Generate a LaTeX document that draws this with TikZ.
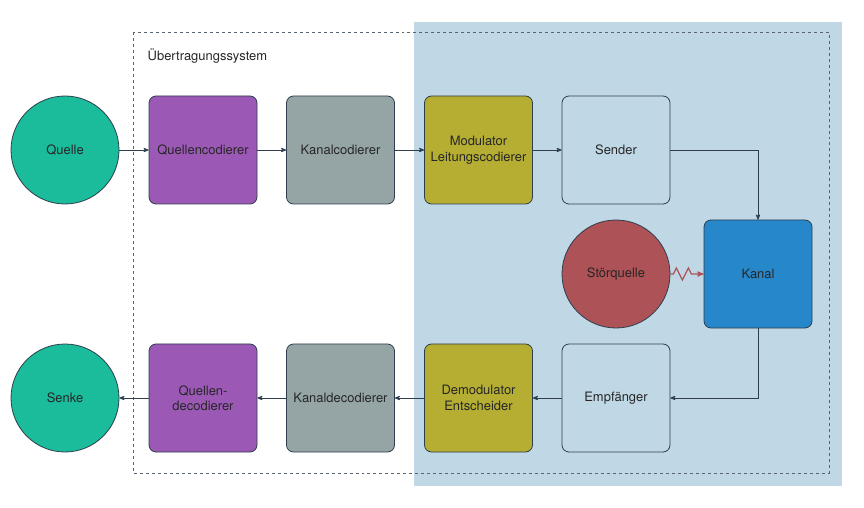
\documentclass[tikz,border=0pt]{standalone}
\usepackage{fontspec}
\setmainfont{TeX Gyre Heros}
\usetikzlibrary{arrows, decorations.pathmorphing}

\definecolor{tuerkis}{HTML}{1BBC9B}
\definecolor{lila}{HTML}{9B59B5}
\definecolor{grau}{HTML}{95A5A5}
\definecolor{oliv}{HTML}{B5AE33}
\definecolor{hellblau}{HTML}{C0D8E6}
\definecolor{blau}{HTML}{2688CB}
\definecolor{rot}{HTML}{AD5256}
\definecolor{linie}{HTML}{2E3E4E}

\begin{document}
\begin{tikzpicture}[x=1bp, y=-1bp, ->, >=stealth', line width=0.8pt, draw=linie]
    \tikzstyle{every node}=[font=\fontsize{13}{15.5}\selectfont, text=black!85]
    \tikzstyle{block}=[draw=linie, rounded corners=7bp, minimum width=108bp, minimum height=108bp, align=center, inner sep=2pt]
    \tikzstyle{kreis}=[draw=linie, circle, minimum size=108bp, inner sep=0pt]

    \useasboundingbox (0,0) rectangle (864,508);
    \fill[hellblau] (414,22) rectangle (842,486);
    \draw[-, dashed, line width=0.6pt, draw=linie!80] (133,32) rectangle (829,473);
    \node[anchor=west] at (144,56) (titel) {Übertragungssystem};

    % obere Reihe
    \node[kreis, fill=tuerkis] at (65,150) (Q) {Quelle};
    \node[block, fill=lila] at (203,150) (QC) {Quellencodierer};
    \node[block, fill=grau] at (340.5,150) (KC) {Kanalcodierer};
    \node[block, fill=oliv] at (478.5,150) (MOD) {Modulator\\Leitungscodierer};
    \node[block, fill=hellblau] at (616,150) (S) {Sender};

    % Mitte
    \node[kreis, fill=rot] at (616,274) (SQ) {Störquelle};
    \node[block, fill=blau] at (758,274) (K) {Kanal};

    % untere Reihe
    \node[kreis, fill=tuerkis] at (65,398) (SE) {Senke};
    \node[block, fill=lila] at (203,398) (QD) {Quellen-\\decodierer};
    \node[block, fill=grau] at (340.5,398) (KD) {Kanaldecodierer};
    \node[block, fill=oliv] at (478.5,398) (DEM) {Demodulator\\Entscheider};
    \node[block, fill=hellblau] at (616,398) (E) {Empfänger};

    \path[draw=linie]
    (Q) edge (QC)
    (QC) edge (KC)
    (KC) edge (MOD)
    (MOD) edge (S)
    (S) edge[to path={-| (\tikztotarget)}] (K)
    (K) edge[to path={|- (\tikztotarget)}] (E)
    (E) edge (DEM)
    (DEM) edge (KD)
    (KD) edge (QD)
    (QD) edge (SE);

    \draw[rot, line width=1.2pt, decorate, decoration={zigzag, segment length=12bp, amplitude=6bp, pre length=3bp, post length=9bp}] (SQ) -- (K);
\end{tikzpicture}
\end{document}
